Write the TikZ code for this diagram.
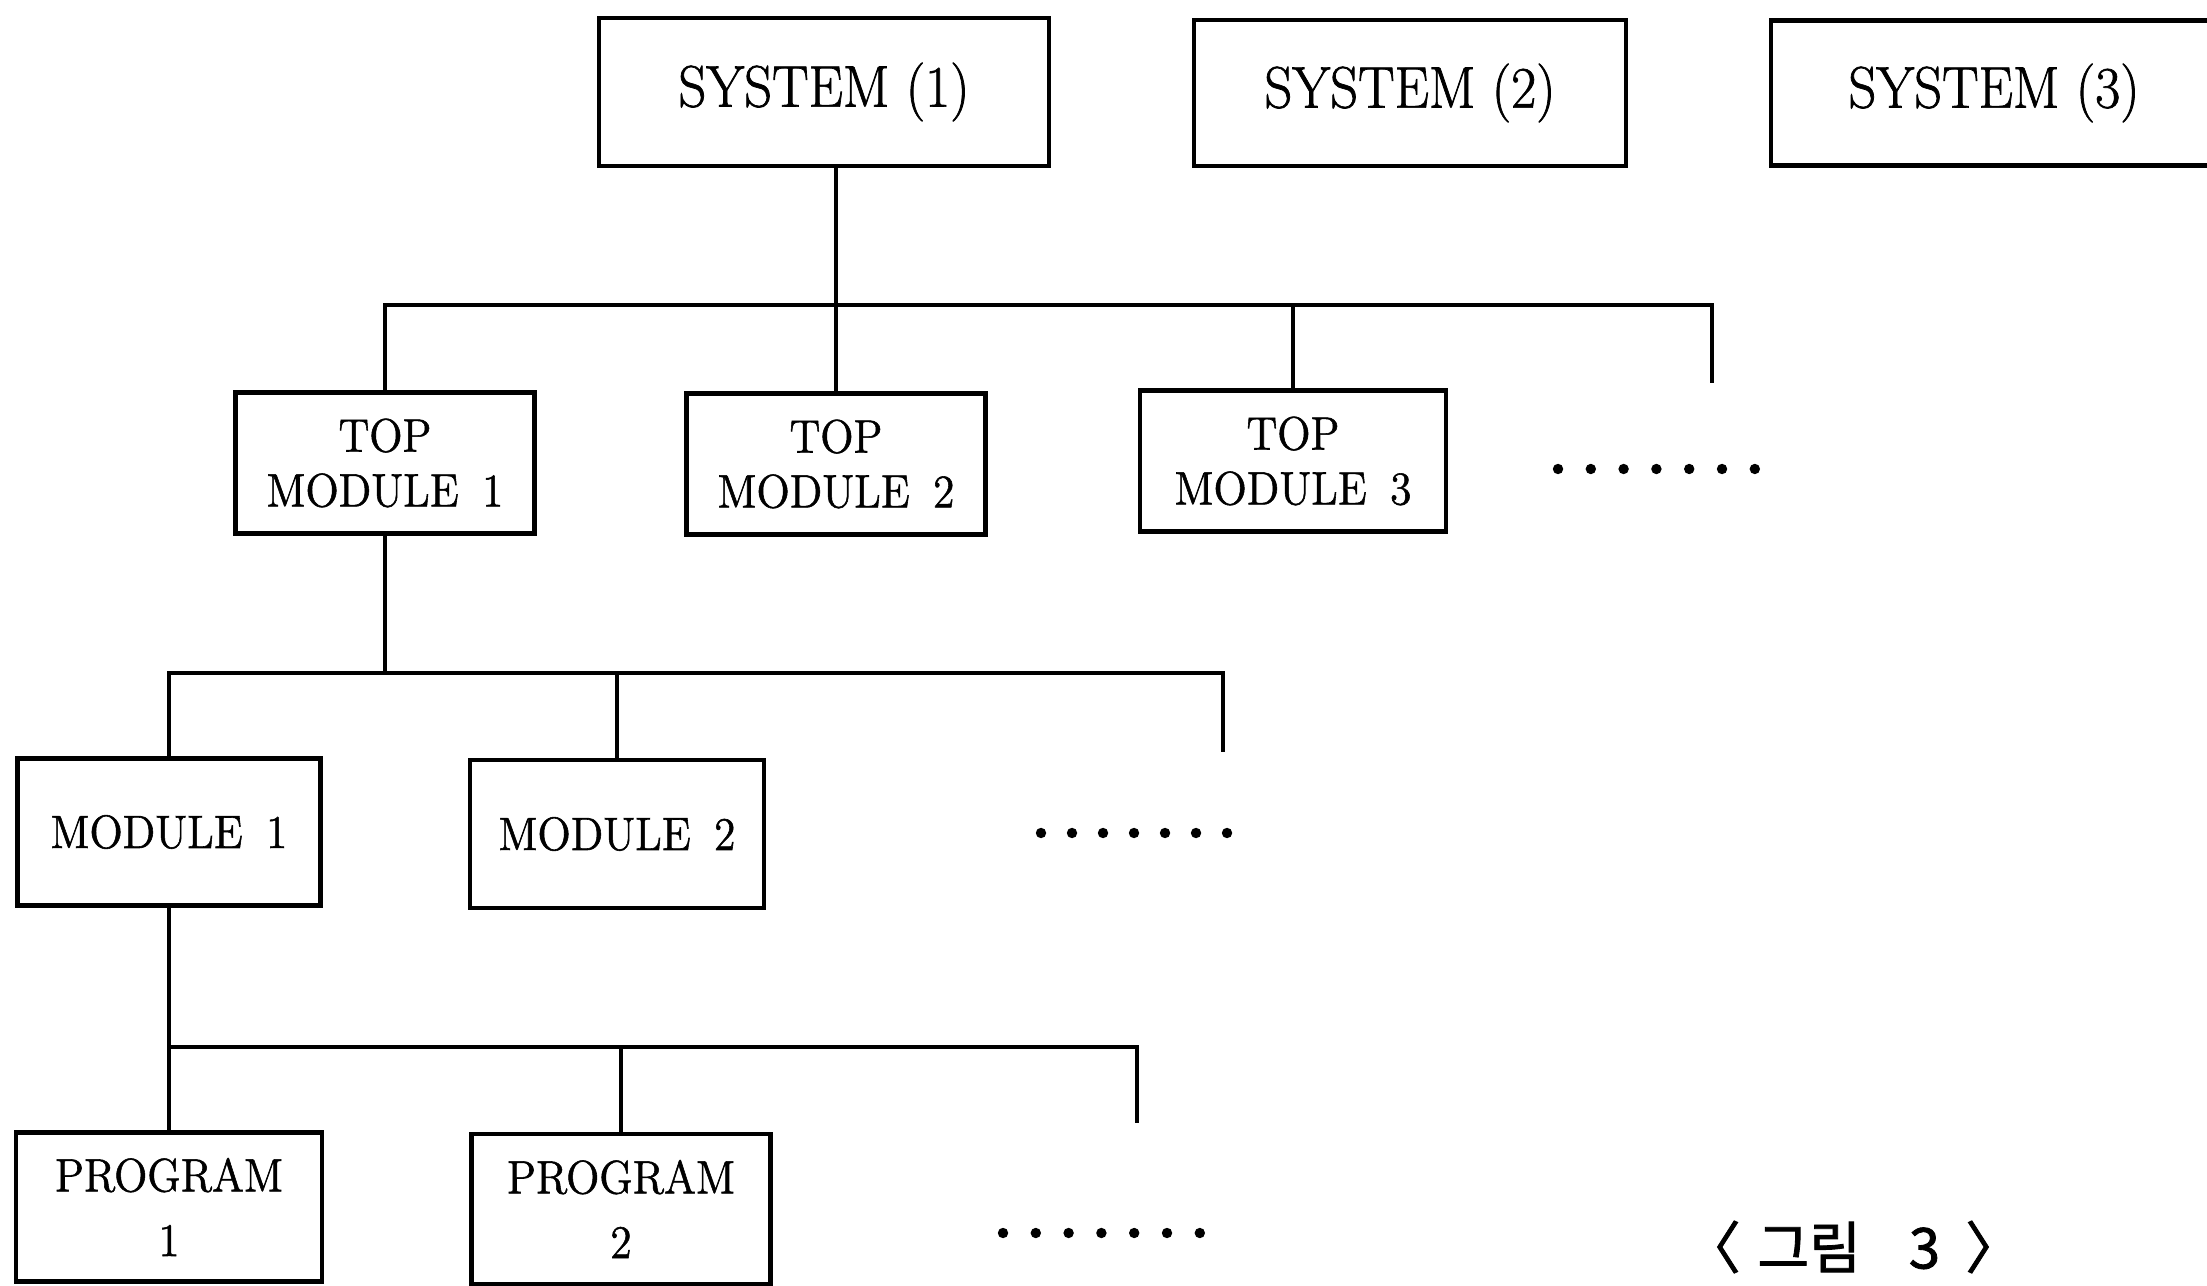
\documentclass[tikz,border=0pt]{standalone}
\usepackage{fontspec}
\setmainfont{Latin Modern Roman}[FakeStretch=0.93, FakeBold=1.2]
\newfontfamily\krfont{Noto Sans CJK KR}[FakeBold=1.5]
\begin{document}
\begin{tikzpicture}[x=0.01cm, y=-0.01cm,
  box/.style={draw, line width=1.25pt, inner sep=0pt, align=center},
  sysbox/.style={box, font=\fontsize{16.7}{20}\selectfont},
  modbox/.style={box, font=\fontsize{13.3}{15.6}\selectfont},
  progbox/.style={box, font=\fontsize{13.3}{18.4}\selectfont},
  link/.style={line width=1.05pt}]
\useasboundingbox (0,0) rectangle (2207,1286);
\clip (0,0) rectangle (2207,1286);

% systems
\node[sysbox, minimum width=4.50cm, minimum height=1.48cm] (s1) at (824,92) {SYSTEM (1)};
\node[sysbox, minimum width=4.32cm, minimum height=1.46cm] (s2) at (1410,93) {SYSTEM (2)};
\node[sysbox, minimum width=4.46cm, minimum height=1.45cm] (s3) at (1994,93) {SYSTEM (3)};

% top modules
\node[modbox, minimum width=2.99cm, minimum height=1.41cm] (tm1) at (385,463) {TOP\\MODULE\enspace 1};
\node[modbox, minimum width=2.99cm, minimum height=1.41cm] (tm2) at (836,464) {TOP\\MODULE\enspace 2};
\node[modbox, minimum width=3.06cm, minimum height=1.41cm] (tm3) at (1293,461) {TOP\\MODULE\enspace 3};

% modules
\node[modbox, minimum width=3.03cm, minimum height=1.47cm] (m1) at (169,832) {MODULE\enspace 1};
\node[modbox, minimum width=2.94cm, minimum height=1.48cm] (m2) at (617,834) {MODULE\enspace 2};

% programs
\node[progbox, minimum width=3.06cm, minimum height=1.49cm] (p1) at (169,1207) {PROGRAM\\1};
\node[progbox, minimum width=2.99cm, minimum height=1.50cm] (p2) at (621,1209) {PROGRAM\\2};

% open ends of the branch bars
\coordinate (b1a) at (1712,305);
\coordinate (b1b) at (1712,383);
\coordinate (b2a) at (1223,673);
\coordinate (b2b) at (1223,752);
\coordinate (b3a) at (1137,1047);
\coordinate (b3b) at (1137,1123);

% system level branches
\draw[link] (s1.south -| tm2.north) -- (tm2.north);
\draw[link] (tm1.north) |- (b1a) -- (b1b);
\draw[link] (tm3.north) -- (tm3.north |- b1a);

% top module level branches
\draw[link] (tm1.south) -- (tm1.south |- b2a);
\draw[link] (m1.north) |- (b2a) -- (b2b);
\draw[link] (m2.north) -- (m2.north |- b2a);

% module level branches
\draw[link] (m1.south) -- (p1.north);
\draw[link] (p1.north |- b3a) -- (b3a) -- (b3b);
\draw[link] (p2.north) -- (p2.north |- b3a);

% continuation dots
\foreach \i in {0,...,6} {
  \fill (1558+\i*32.8,469) circle[radius=0.052cm];
  \fill (1041+\i*31,833) circle[radius=0.052cm];
  \fill (1003+\i*32.8,1233) circle[radius=0.052cm];
}

% caption
\node[font=\krfont\fontsize{16}{18}\selectfont] (cap) at (1853,1247)
  {〈\hspace{0.3em}그림\hspace{0.85em}3\hspace{0.45em}〉};
\end{tikzpicture}
\end{document}
